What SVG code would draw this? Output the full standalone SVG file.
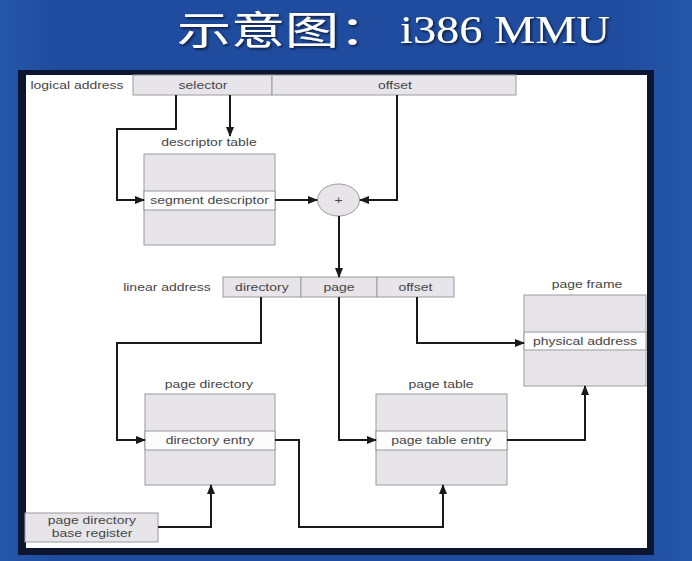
<svg xmlns="http://www.w3.org/2000/svg" width="692" height="561" viewBox="0 0 692 561">
<defs>
<linearGradient id="bg" x1="0" y1="0" x2="1" y2="0">
<stop offset="0" stop-color="#2657a9"/>
<stop offset="0.08" stop-color="#1f4c9f"/>
<stop offset="0.9" stop-color="#1f4c9f"/>
<stop offset="1" stop-color="#2557a9"/>
</linearGradient>
<filter id="sh" x="-10%" y="-20%" width="120%" height="150%">
<feDropShadow dx="1.5" dy="1.5" stdDeviation="0.8" flood-color="#08122e" flood-opacity="0.9"/>
</filter>
<marker id="ar" markerUnits="userSpaceOnUse" markerWidth="10" markerHeight="8" refX="9" refY="4" orient="auto">
<path d="M0,0 L10,4 L0,8 z" fill="#1a1a1a"/>
</marker>
<style>
.t{font-family:"Liberation Sans",Arial,sans-serif;font-size:10.5px;fill:#454545;text-anchor:middle;transform-box:fill-box;transform-origin:center;transform:scaleX(1.33)}
.box{fill:#e7e5e9;stroke:#9a9a9a;stroke-width:1}
.row{fill:#fcfcfc;stroke:#9a9a9a;stroke-width:1}
.ln{fill:none;stroke:#1a1a1a;stroke-width:2}
.arr{marker-end:url(#ar)}
.title{fill:#ffffff;filter:url(#sh)}
</style>
</defs>
<rect x="0" y="0" width="692" height="561" fill="url(#bg)"/>
<g id="title">
<text class="title" x="177" y="44" font-family="'Noto Sans CJK SC',sans-serif" font-size="39" textLength="216" lengthAdjust="spacingAndGlyphs">示意图：</text>
<text class="title" x="400" y="43" font-family="'Liberation Serif',serif" font-size="39" textLength="210" lengthAdjust="spacingAndGlyphs">i386 MMU</text>
</g>
<rect x="18" y="70" width="636" height="485" fill="#0c1630"/>
<rect x="26" y="75" width="621" height="473" fill="#ffffff"/>

<g id="logical-address">
<text class="t" x="77" y="89.5">logical address</text>
<rect class="box" x="133" y="75" width="139" height="20"/>
<text class="t" x="203" y="89">selector</text>
<rect class="box" x="272" y="75" width="244" height="20"/>
<text class="t" x="395" y="89">offset</text>
</g>

<g id="descriptor-table">
<text class="t" x="209" y="146.5">descriptor table</text>
<rect class="box" x="144" y="154" width="131" height="91"/>
<rect class="row" x="144" y="191" width="131" height="19"/>
<text class="t" x="209.5" y="204">segment descriptor</text>
</g>

<g id="adder">
<ellipse cx="338.5" cy="200" rx="21" ry="16" fill="#e7e5e9" stroke="#9a9a9a" stroke-width="1"/>
<text class="t" x="338.5" y="204">+</text>
</g>

<g id="linear-address">
<text class="t" x="167" y="291">linear address</text>
<rect class="box" x="223" y="277" width="78" height="20"/>
<text class="t" x="262" y="291">directory</text>
<rect class="box" x="301" y="277" width="76" height="20"/>
<text class="t" x="339" y="291">page</text>
<rect class="box" x="377" y="277" width="77" height="20"/>
<text class="t" x="415.5" y="291">offset</text>
</g>

<g id="page-directory">
<text class="t" x="209" y="388">page directory</text>
<rect class="box" x="145" y="394" width="130" height="91"/>
<rect class="row" x="145" y="431" width="130" height="19"/>
<text class="t" x="210" y="444">directory entry</text>
</g>

<g id="page-table">
<text class="t" x="441" y="388">page table</text>
<rect class="box" x="376" y="394" width="131" height="91"/>
<rect class="row" x="376" y="431" width="131" height="19"/>
<text class="t" x="441.5" y="444">page table entry</text>
</g>

<g id="page-frame">
<text class="t" x="587" y="288">page frame</text>
<rect class="box" x="524" y="295" width="122" height="91"/>
<rect class="row" x="524" y="332" width="122" height="18"/>
<text class="t" x="585" y="345">physical address</text>
</g>

<g id="pdbr">
<rect class="box" x="25" y="513" width="133" height="29"/>
<text class="t" x="92" y="524">page directory</text>
<text class="t" x="92" y="537">base register</text>
</g>

<g id="connectors">
<path class="ln arr" d="M176,95 V129 H117 V200 H144"/>
<path class="ln arr" d="M230,95 V136"/>
<path class="ln arr" d="M275,200 H317"/>
<path class="ln arr" d="M397,95 V200 H360"/>
<path class="ln arr" d="M339,216 V277"/>
<path class="ln arr" d="M261,297 V343 H117 V440 H145"/>
<path class="ln arr" d="M339,297 V440 H376"/>
<path class="ln arr" d="M417,297 V343 H524"/>
<path class="ln arr" d="M507,440 H585 V386"/>
<path class="ln arr" d="M275,440 H299 V527 H443 V485"/>
<path class="ln arr" d="M158,527 H211 V485"/>
</g>
</svg>
